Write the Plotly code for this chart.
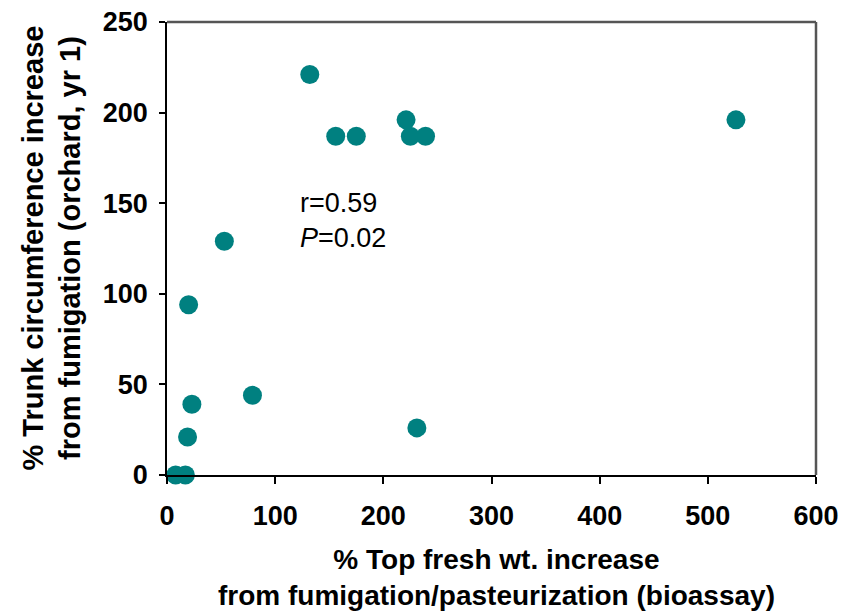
import plotly.graph_objects as go

# Data
top_fresh_wt_increase = [132, 156, 175, 221, 225, 239, 526, 53, 20, 79, 23, 19, 231, 8, 17]
trunk_circ_increase = [221, 187, 187, 196, 187, 187, 196, 129, 94, 44, 39, 21, 26, 0, 0]

x_ticks = [0, 100, 200, 300, 400, 500, 600]
y_ticks = [0, 50, 100, 150, 200, 250]

FONT = "Arial, Liberation Sans, sans-serif"

fig = go.Figure()
fig.add_trace(go.Scatter(
    x=top_fresh_wt_increase, y=trunk_circ_increase,
    mode="markers",
    marker=dict(color="#008080", size=19, line=dict(width=0)),
    cliponaxis=False,
    showlegend=False,
))

fig.update_layout(
    width=841, height=613,
    margin=dict(l=167, r=25, t=22, b=138, autoexpand=False),
    paper_bgcolor="white", plot_bgcolor="white",
    font=dict(family=FONT, color="black"),
    xaxis=dict(
        range=[0, 600], tickvals=x_ticks, showgrid=False, zeroline=False,
        automargin=False,
        showline=True, linecolor="black", linewidth=1.5,
        ticks="outside", ticklen=7, tickcolor="black", tickwidth=1.5,
        tickfont=dict(family=FONT, size=27, color="black", weight="bold"),
        ticklabelstandoff=9,
    ),
    yaxis=dict(
        range=[0, 250], tickvals=y_ticks, showgrid=False, zeroline=False,
        automargin=False,
        showline=True, linecolor="black", linewidth=1.5,
        ticks="outside", ticklen=6, tickcolor="black", tickwidth=1.5,
        tickfont=dict(family=FONT, size=27, color="black", weight="bold"),
        ticklabelstandoff=6,
    ),
    shapes=[
        dict(type="line", xref="paper", yref="paper", x0=0, x1=1, y0=1, y1=1,
             line=dict(color="#555555", width=2.5)),
        dict(type="line", xref="paper", yref="paper", x0=1, x1=1, y0=0, y1=1,
             line=dict(color="#555555", width=2.5)),
    ],
    annotations=[
        dict(text="r=0.59<br><i>P</i>=0.02", x=121, y=140.5, xref="x", yref="y",
             xanchor="left", yanchor="middle", align="left", showarrow=False,
             font=dict(family=FONT, size=27, color="black")),
        dict(text="% Top fresh wt. increase<br>from fumigation/pasteurization (bioassay)",
             x=0.5, y=0, xref="paper", yref="paper", xanchor="center", yanchor="top",
             yshift=-67, xshift=5, showarrow=False, align="center",
             font=dict(family=FONT, size=28, color="black", weight="bold")),
        dict(text="% Trunk circumference increase<br>from fumigation (orchard, yr 1)",
             x=0, y=0.5, xref="paper", yref="paper", xanchor="center", yanchor="middle",
             xshift=-116, showarrow=False, align="center", textangle=-90,
             font=dict(family=FONT, size=29, color="black", weight="bold")),
    ],
)

fig.write_html("out.html")
